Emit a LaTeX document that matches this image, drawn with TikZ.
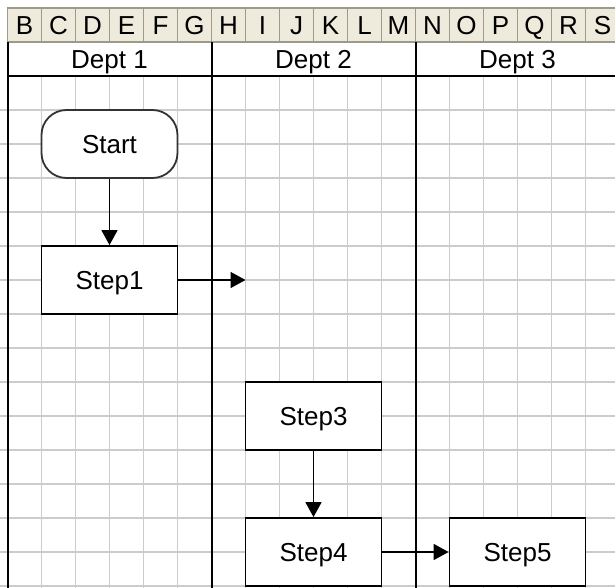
\documentclass[tikz,border=0pt]{standalone}
\usepackage{fontspec}
\setmainfont{Liberation Sans}
\usetikzlibrary{arrows.meta}
\definecolor{hdrfill}{HTML}{EEEADC}
\definecolor{hdrline}{HTML}{9C9A88}
\definecolor{gridgray}{HTML}{CCCCCC}
\tikzset{
cellfont/.style={font=\fontsize{26}{31}\selectfont, text height=18.5pt, text depth=0pt},
stepbox/.style={draw, fill=white, line width=1.8pt, minimum width=136pt, minimum height=68pt, inner sep=0pt, cellfont},
startbox/.style={stepbox, rounded corners=25pt, draw=black!80},
flowarrow/.style={-{Triangle[length=15pt,width=16pt]}, line width=1.6pt},
hdrcell/.style={draw=hdrline, fill=hdrfill, line width=1.6pt, minimum width=34pt, minimum height=34pt, inner sep=0pt, cellfont},
deptlabel/.style={inner sep=0pt, cellfont},
laneline/.style={line width=2pt},
gridline/.style={draw=gridgray, line width=1.5pt}
}
\begin{document}
\begin{tikzpicture}[x=34pt,y=-34pt]
\clip (-0.2206,-0.2353) rectangle (17.8676,17.0588);
\foreach \k in {0,...,18} \draw[gridline] (\k,2) -- (\k,17.2);
\foreach \k in {3,...,17} \draw[gridline] (-0.3,\k) -- (18,\k);
\foreach \c [count=\k from 0] in {B,C,D,E,F,G,H,I,J,K,L,M,N,O,P,Q,R,S}
  \node[hdrcell] (col\c) at (\k+0.5,0.5) {\c};

\node[deptlabel] (dept1) at (3,1.5) {Dept 1};
\node[deptlabel] (dept2) at (9,1.5) {Dept 2};
\node[deptlabel] (dept3) at (15,1.5) {Dept 3};
\foreach \x in {0,6,12} \draw[laneline] (\x,1) -- (\x,17.2);
\draw[laneline] (0,2) -- (18,2);

\node[startbox] (start) at (3,4) {Start};
\node[stepbox] (step1) at (3,8) {Step1};
\node[stepbox] (step3) at (9,12) {Step3};
\node[stepbox] (step4) at (9,16) {Step4};
\node[stepbox] (step5) at (15,16) {Step5};
\coordinate (handoff) at (7,8);

\draw[flowarrow] (start) -- (step1);
\draw[flowarrow] (step1) -- (handoff);
\draw[flowarrow] (step3) -- (step4);
\draw[flowarrow] (step4) -- (step5);
\end{tikzpicture}
\end{document}
